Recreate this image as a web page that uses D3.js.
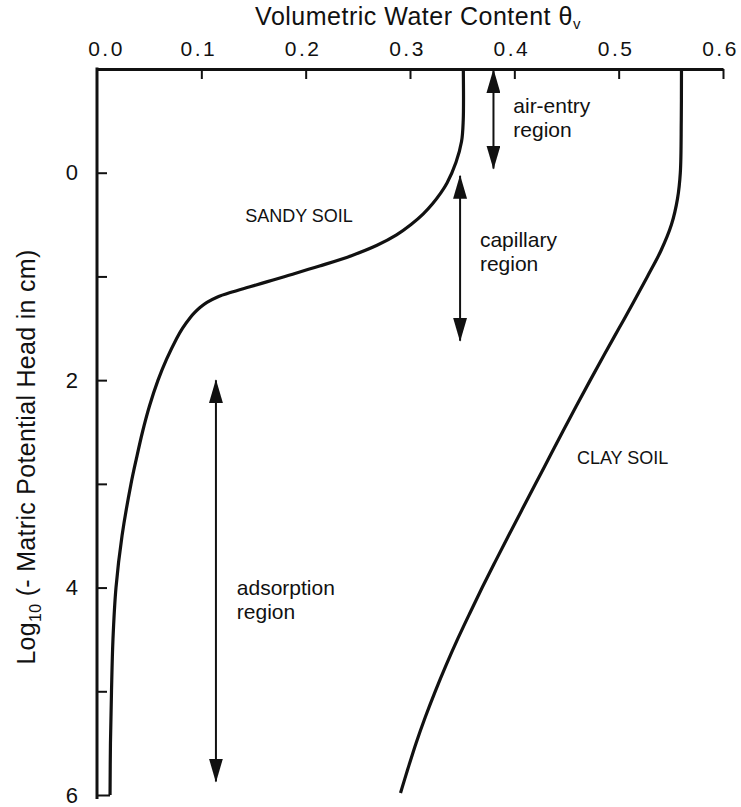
<!DOCTYPE html>
<html>
<head>
<meta charset="utf-8">
<script src="https://cdn.jsdelivr.net/npm/d3@7"></script>
<style>
  html, body { margin: 0; padding: 0; background: #fff; }
  svg { display: block; font-family: "Liberation Sans", Arial, Helvetica, sans-serif; }
</style>
</head>
<body>
<svg id="chart" width="741" height="807"></svg>
<script>
// Soil water retention curves: volumetric water content vs log10 of suction head.
const thetaTicks = [0, 0.1, 0.2, 0.3, 0.4, 0.5, 0.6];
const headTicks = [0, 1, 2, 3, 4, 5, 6];
const headLabels = [0, 2, 4, 6];

// Sandy soil: theta at each log10(-h)
const sandyTheta = [0.3511, 0.3510, 0.3494, 0.3441, 0.3355, 0.3292, 0.3216, 0.3125, 0.3010,
  0.2871, 0.2684, 0.2439, 0.2133, 0.1802, 0.1634, 0.1466, 0.1294, 0.1150, 0.1054, 0.0987,
  0.0935, 0.0891, 0.0819, 0.0762, 0.0666, 0.0585, 0.0503, 0.0436, 0.0379, 0.0326, 0.0240,
  0.0182, 0.0153, 0.0139, 0.0129, 0.0125];
const sandyHead = [-1, -0.5, -0.3, -0.1, 0.1, 0.2, 0.3, 0.4, 0.5,
  0.6, 0.7, 0.8, 0.9, 1.0, 1.05, 1.1, 1.15, 1.2, 1.25, 1.3,
  1.35, 1.4, 1.5, 1.6, 1.8, 2.0, 2.25, 2.5, 2.75, 3.0, 3.5,
  4.0, 4.5, 5.0, 5.5, 6.0];

// Clay soil: theta at each log10(-h)
const clayTheta = [0.5602, 0.5600, 0.5591, 0.5564, 0.5506, 0.5406, 0.5276, 0.5142, 0.5003,
  0.4864, 0.4728, 0.4594, 0.4462, 0.4332, 0.4203, 0.4073, 0.3944, 0.3817, 0.3692, 0.3572,
  0.3455, 0.3345, 0.3242, 0.3146, 0.3058, 0.2979, 0.2909];
const clayHead = [-1, -0.5, 0, 0.25, 0.5, 0.75, 1.0, 1.25, 1.5,
  1.75, 2.0, 2.25, 2.5, 2.75, 3.0, 3.25, 3.5, 3.75, 4.0, 4.25,
  4.5, 4.75, 5.0, 5.25, 5.5, 5.75, 5.98];

// Double-headed arrows spanning each retention region
const regionNames = ["air-entry", "capillary", "adsorption"];
const regionTheta = [0.38, 0.348, 0.114];
const regionFrom = [-0.99, 0.03, 2.0];
const regionTo = [-0.04, 1.62, 5.87];
const regionLabelTheta = [0.399, 0.367, 0.134];
const regionLabelHead = [-0.576, 0.716, 4.07];

const soilNames = ["SANDY SOIL", "CLAY SOIL"];
const soilLabelTheta = [0.142, 0.46];
const soilLabelHead = [0.475, 2.81];

const svg = d3.select("#chart");
const x = d3.scaleLinear().domain([0, 0.6]).range([97, 723]);
const y = d3.scaleLinear().domain([-1, 6]).range([69, 795]);

svg.append("rect").attr("width", 741).attr("height", 807).attr("fill", "#fff");

// Arrowhead
const defs = svg.append("defs");
defs.append("marker")
  .attr("id", "head")
  .attr("viewBox", "0 0 24 14")
  .attr("refX", 23).attr("refY", 7)
  .attr("markerWidth", 24).attr("markerHeight", 14)
  .attr("markerUnits", "userSpaceOnUse")
  .attr("orient", "auto-start-reverse")
  .append("path")
  .attr("d", "M0,0 L24,7 L0,14 Z")
  .attr("fill", "#111");

// Top axis
const xAxis = d3.axisTop(x)
  .tickValues(thetaTicks)
  .tickSizeInner(-10)
  .tickSizeOuter(0)
  .tickPadding(13)
  .tickFormat(d3.format(".1f"));
const gx = svg.append("g").attr("transform", `translate(0,${y(-1)})`).call(xAxis);
gx.select(".domain").attr("stroke", "#111").attr("stroke-width", 3);
gx.selectAll(".tick line").attr("stroke", "#111").attr("stroke-width", 2)
  .attr("display", d => d === 0 ? "none" : null);
gx.selectAll(".tick text")
  .attr("font-size", 21).attr("fill", "#111")
  .attr("font-family", "\"Liberation Sans\", Arial, sans-serif")
  .attr("letter-spacing", "2.5px")
  .attr("dx", d => d === 0 ? 9 : -3);

// Left axis
const yAxis = d3.axisLeft(y)
  .tickValues(headTicks)
  .tickSizeInner(-10)
  .tickSizeOuter(0)
  .tickPadding(19)
  .tickFormat(d => headLabels.includes(d) ? d3.format("d")(d) : "");
const gy = svg.append("g").attr("transform", `translate(${x(0)},0)`).call(yAxis);
gy.select(".domain").remove();
gy.append("line")
  .attr("x1", 0).attr("x2", 0)
  .attr("y1", y(-1) - 1.5).attr("y2", y(6) + 4)
  .attr("stroke", "#111").attr("stroke-width", 3);
gy.selectAll(".tick line").attr("stroke", "#111").attr("stroke-width", 2)
  .attr("x2", d => d === 6 ? x(sandyTheta[sandyTheta.length - 1]) - x(0) : 10);
gy.selectAll(".tick text")
  .attr("font-size", 22).attr("fill", "#111")
  .attr("font-family", "\"Liberation Sans\", Arial, sans-serif");

// Axis titles
const title = svg.append("text")
  .attr("x", 418).attr("y", 25)
  .attr("text-anchor", "middle")
  .attr("font-size", 25)
  .attr("letter-spacing", "0.5px")
  .attr("fill", "#111");
title.append("tspan").text("Volumetric Water Content θ");
title.append("tspan").attr("font-size", 15).attr("dy", 4).text("v");

const ytitle = svg.append("text")
  .attr("transform", `translate(35,457) rotate(-90)`)
  .attr("text-anchor", "middle")
  .attr("font-size", 25)
  .attr("letter-spacing", "0.3px")
  .attr("fill", "#111");
ytitle.append("tspan").text("Log");
ytitle.append("tspan").attr("font-size", 16).attr("dy", 6).text("10");
ytitle.append("tspan").attr("dy", -6).text(" (- Matric Potential Head in cm)");

// Retention curves
const line = d3.line()
  .x(d => x(d[0]))
  .y(d => y(d[1]))
  .curve(d3.curveCatmullRom.alpha(0.5));

const curves = [
  d3.zip(sandyTheta, sandyHead),
  d3.zip(clayTheta, clayHead)
];
svg.append("g").selectAll("path")
  .data(curves)
  .join("path")
  .attr("d", line)
  .attr("fill", "none")
  .attr("stroke", "#111")
  .attr("stroke-width", 3.2)
  .attr("stroke-linejoin", "round")
  .attr("stroke-linecap", "butt");

// Region arrows
svg.append("g").selectAll("line")
  .data(regionNames)
  .join("line")
  .attr("x1", (d, i) => x(regionTheta[i]))
  .attr("x2", (d, i) => x(regionTheta[i]))
  .attr("y1", (d, i) => y(regionFrom[i]))
  .attr("y2", (d, i) => y(regionTo[i]))
  .attr("stroke", "#111")
  .attr("stroke-width", 2)
  .attr("marker-start", "url(#head)")
  .attr("marker-end", "url(#head)");

// Region labels
const rl = svg.append("g").selectAll("text")
  .data(regionNames)
  .join("text")
  .attr("x", (d, i) => x(regionLabelTheta[i]))
  .attr("y", (d, i) => y(regionLabelHead[i]))
  .attr("font-size", 21)
  .attr("fill", "#111");
rl.append("tspan").text(d => d);
rl.append("tspan")
  .attr("x", (d, i) => x(regionLabelTheta[i]))
  .attr("dy", 24)
  .text("region");

// Soil labels
svg.append("g").selectAll("text")
  .data(soilNames)
  .join("text")
  .attr("x", (d, i) => x(soilLabelTheta[i]))
  .attr("y", (d, i) => y(soilLabelHead[i]))
  .attr("font-size", 18)
  .attr("fill", "#111")
  .text(d => d);
</script>
</body>
</html>
